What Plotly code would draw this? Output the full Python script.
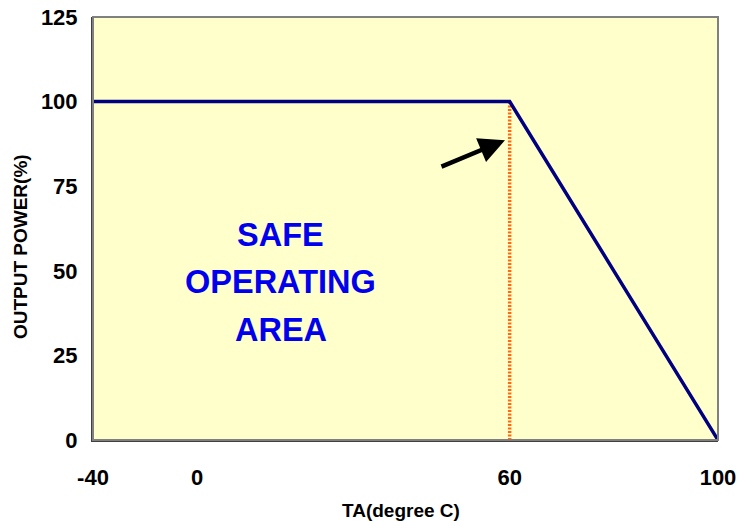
import plotly.graph_objects as go

# Data
categories = ["-40", "0", "20", "40", "60", "80", "100"]
tick_labels = ["-40", "0", "60", "100"]
temps = ["-40", "60", "80", "100"]
power = [100, 100, 50, 0]
limit_x = ["60", "60"]
limit_y = [0, 100]
y_ticks = [0, 25, 50, 75, 100, 125]
area_lines = ["SAFE", "OPERATING", "AREA"]

FONT = "Liberation Sans, Arial, sans-serif"

fig = go.Figure()
# invisible trace to register all categories
fig.add_trace(go.Scatter(x=categories, y=[None]*len(categories), mode="markers",
                         showlegend=False, hoverinfo="skip"))
fig.add_trace(go.Scatter(x=limit_x, y=limit_y, mode="lines",
                         line=dict(color="#FF6A10", width=3.5, dash="2px,1.5px"),
                         showlegend=False))
fig.add_trace(go.Scatter(x=temps, y=power, mode="lines",
                         line=dict(color="#000080", width=3.5),
                         showlegend=False))

# Safe operating area text
for i, t in enumerate(area_lines):
    fig.add_annotation(x=1.80, y=60.7 - i * 14.1, xref="x", yref="y", text=f"<b>{t}</b>",
                       showarrow=False, font=dict(family=FONT, size=32.5, color="#0000EE"))

# Arrow
fig.add_annotation(x=3.955, y=88.6, xref="x", yref="y", ax=-65, ay=27, text="",
                   showarrow=True, arrowhead=2, arrowsize=1.15, arrowwidth=4.5,
                   arrowcolor="#000000", standoff=0)

# Axis titles
fig.add_annotation(x=0.4928, y=-0.1655, xref="paper", yref="paper", text="<b>TA(degree C)</b>",
                   xanchor="center", yanchor="middle",
                   showarrow=False, font=dict(family=FONT, size=19, color="#000000"))
fig.add_annotation(x=-0.1168, y=0.456, xref="paper", yref="paper", text="<b>OUTPUT POWER(%)</b>",
                   xanchor="center", yanchor="middle",
                   textangle=-90, showarrow=False, font=dict(family=FONT, size=19, color="#000000"))

# frame top/right
fig.add_shape(type="rect", xref="paper", yref="paper", x0=0, y0=0, x1=1, y1=1,
              line=dict(color="#808080", width=2), layer="above")

fig.update_layout(
    width=741, height=521,
    margin=dict(l=93, r=23, t=17, b=81),
    paper_bgcolor="white",
    plot_bgcolor="#FFFFCC",
    font=dict(family=FONT, color="#000000"),
    xaxis=dict(
        type="category", categoryorder="array", categoryarray=categories,
        range=[0, 6], tickmode="array", tickvals=tick_labels, ticktext=[f"<b>{t}</b>" for t in tick_labels],
        tickfont=dict(size=22, family=FONT), showgrid=False, zeroline=False,
        showline=True, linecolor="#404040", linewidth=2, ticks="",
        ticklabelstandoff=17, automargin=False,
    ),
    yaxis=dict(
        range=[0, 125], tickmode="array", tickvals=y_ticks,
        ticktext=[f"<b>{v}</b>" for v in y_ticks],
        tickfont=dict(size=22, family=FONT), showgrid=False, zeroline=False,
        showline=True, linecolor="#404040", linewidth=2, ticks="",
        ticklabelstandoff=9, automargin=False,
    ),
)

fig.write_html("out.html", config={"displayModeBar": False},
               post_script="document.body.style.margin='0';")
